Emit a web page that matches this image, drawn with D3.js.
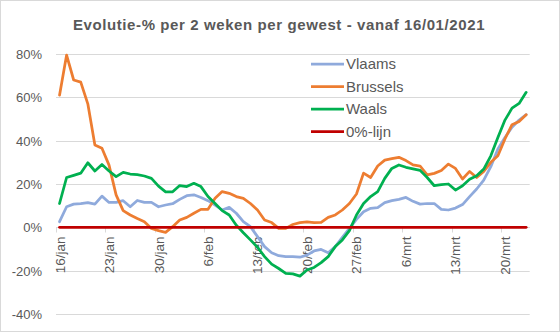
<!DOCTYPE html>
<html>
<head>
<meta charset="utf-8">
<script src="https://cdn.jsdelivr.net/npm/d3@7"></script>
<style>
  html, body { margin: 0; padding: 0; background: #fff; }
  svg { display: block; font-family: "Liberation Sans", Arial, sans-serif; }
</style>
</head>
<body>
<svg id="chart" width="560" height="332"></svg>
<script>
const title = "Evolutie-% per 2 weken per gewest - vanaf 16/01/2021";
const seriesNames = ["Vlaams", "Brussels", "Waals", "0%-lijn"];
const seriesColors = ["#8faadc", "#ed7d31", "#00b050", "#c00000"];
const startDate = new Date(2021, 0, 16);
const endDate = new Date(2021, 2, 24);
const tickLabels = ["16/jan", "23/jan", "30/jan", "6/feb", "13/feb", "20/feb", "27/feb", "6/mrt", "13/mrt", "20/mrt"];
const yTicks = [-40, -20, 0, 20, 40, 60, 80];

const vlaams = [2.6, 9.5, 10.7, 10.9, 11.4, 10.7, 14.4, 11.5, 11.5, 12.3,
  9.5, 12.4, 11.5, 11.5, 9.5, 10.3, 10.9, 12.9, 14.6, 15,
  13.8, 12.3, 10.3, 8, 9.2, 6.5, 2.6, 0.3, -4.3, -8.9,
  -11.7, -13.1, -13.5, -13.5, -13.8, -12.8, -10.9, -10.2, -11.7, -8.9,
  -4.6, -0.5, 3.7, 7.2, 8.8, 9.1, 11.4, 12.3, 12.9, 13.8,
  12, 10.7, 11, 11, 8.3, 8, 8.9, 10.5, 14.2, 17.7,
  21.8, 28, 36.2, 41.5, 46.2, 49.5, 52];
const brussels = [61, 79.5, 68, 67, 57, 38, 36.5, 28.7, 15, 7.7,
  5.7, 4.1, 2.6, -0.5, -1.5, -2.3, 0.3, 3.4, 4.6, 6.5,
  8.3, 8.3, 13.4, 16.5, 15.7, 14.2, 13.4, 11, 8, 3.4,
  2.2, -0.5, -0.5, 1.3, 2.2, 2.5, 2.2, 2.3, 4.6, 5.7,
  8, 11, 15.4, 25, 23, 28.3, 31, 31.7, 32.3, 30.8,
  28.8, 28.3, 24.2, 24.9, 26.2, 29.2, 27.2, 22.3, 25.8, 23,
  25.8, 30, 33, 40.8, 47.4, 48.9, 52];
const waals = [11, 23, 24, 25, 29.8, 26, 29, 26, 23.4, 25.4,
  24.6, 24.3, 23.7, 22.6, 19, 16.4, 16.4, 19.3, 18.8, 20.3,
  18.8, 14.2, 11, 7.7, 5.7, 1, -2.5, -5.8, -9.2, -13.5,
  -17, -19, -21.2, -21.5, -22.5, -19.7, -18.5, -16.3, -13.5, -8.9,
  -5.8, -1.5, 5.7, 11, 14.2, 16.5, 22.6, 27.2, 28.8, 27.7,
  27, 26.3, 23, 19.2, 19.7, 20, 17.2, 19.2, 22.2, 23.8,
  26.9, 33, 41.5, 49.5, 55, 57.2, 62.3];
const nulLijn = vlaams.map(() => 0);

const dates = d3.timeDay.range(startDate, endDate);
const seriesValues = [vlaams, brussels, waals, nulLijn];

const svg = d3.select("#chart");
const W = 560, H = 332;
const plot = { left: 56, right: 529.7, top: 54, bottom: 314 };

// chart border
svg.append("rect").attr("x", 0.5).attr("y", 0.5).attr("width", W - 1).attr("height", H - 1)
  .attr("fill", "#fff").attr("stroke", "#d9d9d9");

const x = d3.scaleBand().domain(dates.map((d, i) => i)).range([plot.left, plot.right]).padding(0);
const y = d3.scaleLinear().domain([-40, 80]).range([plot.bottom, plot.top]);

// gridlines
svg.append("g").selectAll("line").data(yTicks).join("line")
  .attr("x1", plot.left).attr("x2", plot.right)
  .attr("y1", d => Math.round(y(d)) + 0.5).attr("y2", d => Math.round(y(d)) + 0.5)
  .attr("stroke", "#d9d9d9").attr("stroke-width", 1);

// y labels
const yAxis = d3.axisLeft(y).tickValues(yTicks).tickSize(0).tickPadding(0).tickFormat(d => d + "%");
const gy = svg.append("g").attr("transform", `translate(${plot.left - 14},0)`).call(yAxis);
gy.select(".domain").remove();
gy.selectAll("text").attr("fill", "#595959").style("font-size", "13px")
  .style("font-family", "'Liberation Sans', Arial, sans-serif").attr("dy", "0.35em");

// x axis at 0
const y0 = Math.round(y(0)) + 0.5;
svg.append("line").attr("x1", plot.left).attr("x2", plot.right).attr("y1", y0).attr("y2", y0)
  .attr("stroke", "#d9d9d9").attr("stroke-width", 1);
const tickIdx = dates.map((d, i) => i).filter(i => i % 7 === 0);
svg.append("g").selectAll("line").data(tickIdx).join("line")
  .attr("x1", i => Math.round(x(i)) + 0.5).attr("x2", i => Math.round(x(i)) + 0.5)
  .attr("y1", y0).attr("y2", y0 + 5)
  .attr("stroke", "#d9d9d9").attr("stroke-width", 1);
svg.append("g").selectAll("text").data(tickIdx).join("text")
  .attr("transform", i => `translate(${x(i) + x.bandwidth() / 2 + 5},${y0 + 9}) rotate(-90)`)
  .attr("text-anchor", "end")
  .attr("fill", "#595959").style("font-size", "13.5px")
  .text((i, k) => tickLabels[k]);

// lines
const line = d3.line().x((v, i) => x(i) + x.bandwidth() / 2).y(v => y(v));
svg.append("g").selectAll("path").data(seriesValues).join("path")
  .attr("d", d => line(d))
  .attr("fill", "none")
  .attr("stroke", (d, k) => seriesColors[k])
  .attr("stroke-width", 2.75)
  .attr("stroke-linejoin", "round")
  .attr("stroke-linecap", "round");

// legend
const lg = svg.append("g").attr("transform", "translate(311,64)");
const items = lg.selectAll("g").data(seriesNames).join("g")
  .attr("transform", (d, k) => `translate(0,${k * 22.5})`);
items.append("line").attr("x1", 0).attr("x2", 33).attr("y1", 0).attr("y2", 0)
  .attr("stroke", (d, k) => seriesColors[k]).attr("stroke-width", 2.75);
items.append("text").attr("x", 35).attr("y", 0).attr("dy", "0.35em")
  .attr("fill", "#595959").style("font-size", "15px").text(d => d);

// title
svg.append("text").attr("x", 279).attr("y", 29.5).attr("text-anchor", "middle")
  .attr("fill", "#595959").style("font-size", "15px").style("font-weight", "bold")
  .style("letter-spacing", "0.6px")
  .text(title);
</script>
</body>
</html>
